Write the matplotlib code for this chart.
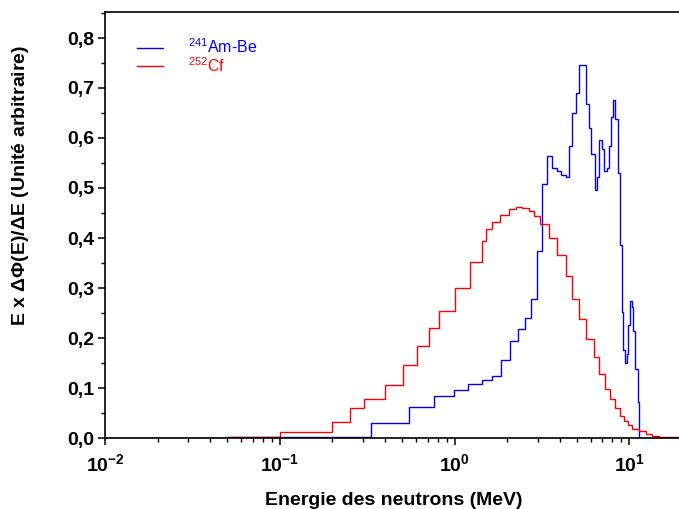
import numpy as np
import matplotlib
matplotlib.use('Agg')
import matplotlib.pyplot as plt
from matplotlib.ticker import FixedLocator, FixedFormatter, MultipleLocator, FuncFormatter

plt.rcParams['font.family'] = ['Liberation Sans', 'DejaVu Sans']
plt.rcParams['mathtext.fontset'] = 'custom'
plt.rcParams['mathtext.rm'] = 'Liberation Sans'
plt.rcParams['mathtext.bf'] = 'Liberation Sans:bold'

# Cf-252 spectrum (bin edges in MeV, E x dPhi/dE)
cf_edges = [0.05, 0.1, 0.2, 0.251, 0.302, 0.40, 0.506, 0.608, 0.71, 0.81,
            1.0, 1.22, 1.44, 1.52, 1.64, 1.83, 2.05, 2.26, 2.44, 2.67,
            2.85, 3.07, 3.47, 3.83, 4.33, 4.70, 5.16, 5.68, 6.26, 6.71,
            7.24, 7.73, 8.26, 8.83, 9.29, 9.84, 10.4, 11.4, 12.5, 13.5,
            14.7, 16.7, 20]
cf_vals = [0.003, 0.012, 0.033, 0.060, 0.079, 0.107, 0.146, 0.184, 0.221, 0.255,
           0.301, 0.353, 0.395, 0.419, 0.433, 0.447, 0.458, 0.463, 0.460, 0.454,
           0.444, 0.428, 0.401, 0.366, 0.324, 0.278, 0.239, 0.198, 0.163, 0.129,
           0.099, 0.079, 0.060, 0.045, 0.035, 0.027, 0.019, 0.014, 0.009, 0.005,
           0.003, 0.002]

# Am-Be spectrum
ambe_edges = [0.01, 0.05, 0.333, 0.547, 0.764, 0.99, 1.2, 1.44, 1.64, 1.85,
              2.08, 2.31, 2.52, 2.75, 2.98, 3.18, 3.40, 3.63, 3.86, 4.08,
              4.33, 4.50, 4.72, 4.96, 5.16, 5.63, 5.86, 6.07, 6.32, 6.51,
              6.71, 6.96, 7.17, 7.43, 7.63, 7.87, 8.04, 8.29, 8.58, 8.86,
              9.02, 9.22, 9.46, 9.64, 9.85, 10.1, 10.3, 10.5, 10.8, 11.15,
              11.4, 20]
ambe_vals = [0.0005, 0.002, 0.030, 0.063, 0.085, 0.097, 0.108, 0.116, 0.125, 0.156,
             0.195, 0.219, 0.241, 0.279, 0.374, 0.509, 0.565, 0.541, 0.534, 0.527,
             0.523, 0.585, 0.651, 0.691, 0.746, 0.669, 0.621, 0.568, 0.496, 0.523,
             0.597, 0.579, 0.534, 0.541, 0.584, 0.643, 0.677, 0.639, 0.531, 0.386,
             0.253, 0.177, 0.151, 0.168, 0.226, 0.275, 0.263, 0.214, 0.139, 0.073,
             0.0]

xticks = [0.01, 0.1, 1, 10]
xticklabels = [r'$\mathbf{10^{-2}}$', r'$\mathbf{10^{-1}}$', r'$\mathbf{10^{0}}$', r'$\mathbf{10^{1}}$']

fig = plt.figure(figsize=(6.79, 5.09), dpi=100)
ax = fig.add_axes([105/679, 71/509, 577/679, 426/509])

ax.stairs(ambe_vals, ambe_edges, color='#0000ff', lw=1.0,
          label=r'$^{\mathregular{241}}$Am-Be')
ax.stairs(cf_vals, cf_edges, color='#ff0000', lw=1.0,
          label=r'$^{\mathregular{252}}$Cf')

ax.set_xscale('log')
ax.set_xlim(0.01, 20)
ax.set_ylim(0, 0.852)

ax.xaxis.set_major_locator(FixedLocator(xticks))
ax.xaxis.set_major_formatter(FixedFormatter(xticklabels))
minor = [m * 10.0**d for d in range(-2, 2) for m in range(2, 10)]
ax.xaxis.set_minor_locator(FixedLocator(minor))
ax.xaxis.set_minor_formatter(FixedFormatter([''] * len(minor)))

ax.yaxis.set_major_locator(MultipleLocator(0.1))
ax.yaxis.set_minor_locator(MultipleLocator(0.05))
ax.yaxis.set_major_formatter(FuncFormatter(lambda v, p: ('%.1f' % v).replace('.', ',')))

ax.tick_params(which='major', direction='out', length=5, width=1.1, labelsize=14, pad=3)
ax.tick_params(which='minor', direction='out', length=3, width=1.0)
for lab in ax.get_yticklabels():
    lab.set_fontweight('bold')
ax.tick_params(axis='x', which='major', pad=6)

for s in ax.spines.values():
    s.set_linewidth(1.2)
ax.spines['right'].set_visible(False)

ax.set_xlabel('Energie des neutrons (MeV)', fontsize=14, fontweight='bold', labelpad=12)
ax.set_ylabel(r'E x $\mathregular{\Delta\Phi}$(E)/$\mathregular{\Delta}$E (Unit' + '\u00e9 arbitraire)',
              fontsize=14, fontweight='bold')
ax.yaxis.set_label_coords(-0.128, 0.592)

leg = ax.legend(loc='upper left', bbox_to_anchor=(0.055, 0.94), frameon=False,
                fontsize=11.5, handlelength=1.63, handletextpad=1.6,
                labelspacing=0.0, borderpad=0, borderaxespad=0,
                labelcolor='linecolor')
for h in leg.legend_handles:
    h.set_linewidth(1.0)

fig.savefig('out.png', dpi=100)
